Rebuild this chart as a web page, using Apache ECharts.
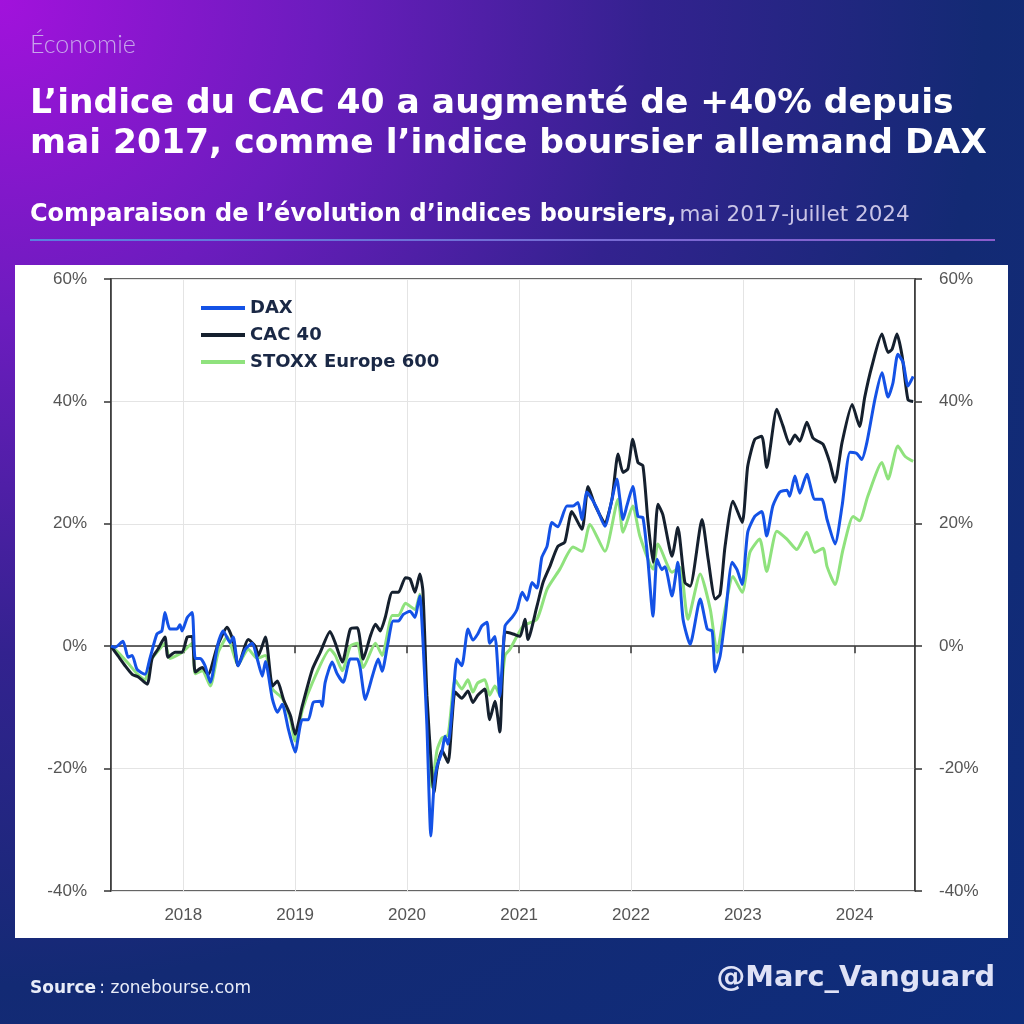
<!DOCTYPE html>
<html>
<head>
<meta charset="utf-8">
<script src="https://cdn.jsdelivr.net/npm/echarts@6/dist/echarts.min.js"></script>
<style>
  html, body { margin: 0; padding: 0; }
  #page {
    position: relative;
    width: 1024px;
    height: 1024px;
    overflow: hidden;
    background: radial-gradient(circle at 0% 0%, #a212dc 0%, #6c1cbe 22%, #33228f 45%, #132a74 68%, #0e2d7c 100%);
  }
  #panel { position: absolute; left: 15px; top: 265px; width: 993px; height: 673px; background: #ffffff; }
  #chart { position: absolute; left: 0; top: 0; width: 1024px; height: 1024px; }
</style>
</head>
<body>
<div id="page">
  <div id="panel"></div>
  <div id="chart"></div>
</div>
<script>
// séries (variation en % depuis mai 2017)
const seriesNames = ['DAX', 'CAC 40', 'STOXX Europe 600'];
const xStart = '2017-05-10';
const xEnd = '2024-07-16';
const yMin = -40;
const yMax = 60;
const yStep = 20;

const daxPoints = [
  ['2017-05-10', 0], ['2017-05-23', -0.2], ['2017-06-18', 0.8], ['2017-07-05', -1.8], ['2017-07-18', -1.5],
  ['2017-08-03', -3.8], ['2017-08-29', -4.6], ['2017-09-14', -2], ['2017-10-07', 2], ['2017-10-23', 2.5],
  ['2017-11-02', 5.5], ['2017-11-18', 2.8], ['2017-12-11', 2.8], ['2017-12-21', 3.5], ['2017-12-28', 2.5],
  ['2018-01-14', 4.7], ['2018-01-30', 5.5], ['2018-02-09', -2], ['2018-02-25', -2], ['2018-03-13', -3.2],
  ['2018-03-30', -5.9], ['2018-04-25', 0.6], ['2018-05-11', 2.5], ['2018-06-03', 0.6], ['2018-06-13', 1.5],
  ['2018-06-29', -3.2], ['2018-07-22', -0.5], ['2018-08-14', 0.5], ['2018-08-30', -2], ['2018-09-16', -4.9],
  ['2018-09-26', -2.5], ['2018-10-19', -8.7], ['2018-11-04', -10.8], ['2018-11-20', -9.5], ['2018-12-10', -13.6],
  ['2019-01-01', -17.3], ['2019-01-24', -12], ['2019-02-13', -12], ['2019-03-01', -9.2], ['2019-03-24', -9],
  ['2019-03-30', -9.8], ['2019-04-09', -5.9], ['2019-05-02', -2.6], ['2019-05-18', -4.5], ['2019-06-07', -5.9],
  ['2019-06-30', -2.1], ['2019-07-23', -2.1], ['2019-08-01', -3.5], ['2019-08-18', -8.7], ['2019-09-10', -4.9],
  ['2019-09-29', -2.1], ['2019-10-12', -4.1], ['2019-10-29', 0], ['2019-11-17', 4.1], ['2019-12-04', 4.1],
  ['2019-12-20', 5.2], ['2020-01-11', 5.7], ['2020-01-27', 4.7], ['2020-02-06', 6.9], ['2020-02-12', 8.2],
  ['2020-02-22', 1], ['2020-03-06', -13], ['2020-03-19', -31], ['2020-03-29', -22.9], ['2020-04-08', -19.6],
  ['2020-04-24', -17.3], ['2020-05-04', -14.7], ['2020-05-14', -16], ['2020-05-30', -8.7], ['2020-06-12', -2.1],
  ['2020-06-28', -3.2], ['2020-07-18', 2.8], ['2020-08-03', 1], ['2020-08-19', 2], ['2020-09-01', 3.3],
  ['2020-09-18', 3.9], ['2020-09-27', 0.5], ['2020-10-14', 1.6], ['2020-10-30', -8.2], ['2020-11-16', 3.3],
  ['2020-12-09', 4.7], ['2020-12-25', 6], ['2021-01-11', 8.8], ['2021-01-27', 7.5], ['2021-02-12', 10.4],
  ['2021-02-28', 9.5], ['2021-03-16', 14.5], ['2021-04-02', 16.3], ['2021-04-18', 20.2], ['2021-05-07', 19.5],
  ['2021-06-06', 22.9], ['2021-06-26', 22.9], ['2021-07-12', 23.5], ['2021-07-25', 20.7], ['2021-08-10', 25.2],
  ['2021-08-27', 24], ['2021-09-12', 22.5], ['2021-10-08', 19.6], ['2021-10-31', 24], ['2021-11-16', 27.3],
  ['2021-11-26', 24], ['2021-12-06', 20.7], ['2021-12-19', 23], ['2022-01-07', 26.1], ['2022-01-24', 21.2],
  ['2022-02-09', 21], ['2022-02-25', 14.2], ['2022-03-14', 4.9], ['2022-03-27', 14.2], ['2022-04-12', 12.5],
  ['2022-04-22', 13], ['2022-05-15', 8.2], ['2022-06-03', 13.7], ['2022-06-20', 4.4], ['2022-07-13', 0.3],
  ['2022-08-15', 7.7], ['2022-09-07', 2.8], ['2022-09-23', 2.5], ['2022-10-03', -4.2], ['2022-10-19', -1.6],
  ['2022-11-04', 4.4], ['2022-11-27', 13.7], ['2022-12-13', 12.5], ['2022-12-30', 10.1], ['2023-01-17', 18.6],
  ['2023-02-09', 21.2], ['2023-03-04', 22], ['2023-03-20', 18], ['2023-04-09', 22.9], ['2023-05-02', 25.2],
  ['2023-05-25', 25.5], ['2023-06-03', 24.5], ['2023-06-20', 27.8], ['2023-07-06', 25], ['2023-07-29', 28.1],
  ['2023-08-24', 24], ['2023-09-16', 24], ['2023-10-03', 20.7], ['2023-10-29', 16.7], ['2023-11-21', 22.9],
  ['2023-12-17', 31.7], ['2024-01-08', 31.5], ['2024-01-24', 30.5], ['2024-02-10', 33.3], ['2024-03-07', 40.3],
  ['2024-03-30', 44.7], ['2024-04-19', 40.7], ['2024-05-05', 43], ['2024-05-21', 47.7], ['2024-06-07', 46.4],
  ['2024-06-23', 42.5], ['2024-07-10', 44.1]
];

const cacPoints = [
  ['2017-05-10', 0], ['2017-06-02', -1.6], ['2017-06-25', -3.2], ['2017-07-18', -4.6], ['2017-08-06', -5],
  ['2017-09-05', -6.2], ['2017-09-21', -2], ['2017-10-10', -0.5], ['2017-11-02', 1.5], ['2017-11-12', -1.8],
  ['2017-12-05', -1], ['2017-12-28', -1], ['2018-01-14', 1.5], ['2018-01-30', 1.6], ['2018-02-09', -4.2],
  ['2018-03-04', -3.5], ['2018-03-23', -4.6], ['2018-04-22', 0], ['2018-05-24', 3.1], ['2018-06-13', 0.8],
  ['2018-06-29', -3.2], ['2018-08-01', 1.1], ['2018-08-24', 0], ['2018-09-03', -1.5], ['2018-09-26', 1.5],
  ['2018-10-19', -6.5], ['2018-11-04', -5.7], ['2018-11-24', -8.7], ['2018-12-17', -11.4], ['2019-01-01', -14.4],
  ['2019-01-24', -9.8], ['2019-02-26', -3.8], ['2019-03-24', -1], ['2019-04-25', 2.4], ['2019-05-12', 0.5],
  ['2019-06-04', -2.6], ['2019-06-30', 2.8], ['2019-07-23', 3], ['2019-08-11', -2.1], ['2019-09-03', 1.6],
  ['2019-09-20', 3.6], ['2019-10-06', 2.5], ['2019-10-22', 4.7], ['2019-11-14', 8.8], ['2019-12-04', 8.8],
  ['2019-12-27', 11.2], ['2020-01-11', 11], ['2020-01-27', 8.8], ['2020-02-12', 11.8], ['2020-02-22', 9],
  ['2020-03-06', -8], ['2020-03-22', -20.6], ['2020-03-29', -23.9], ['2020-04-08', -20], ['2020-04-24', -17],
  ['2020-05-14', -19], ['2020-05-27', -12], ['2020-06-06', -7.5], ['2020-06-28', -8.5], ['2020-07-18', -7.3],
  ['2020-08-03', -9.2], ['2020-08-19', -8], ['2020-09-11', -7], ['2020-09-27', -12], ['2020-10-14', -9],
  ['2020-10-30', -14], ['2020-11-16', 2.3], ['2020-12-12', 2], ['2021-01-04', 1.6], ['2021-01-20', 4.4],
  ['2021-01-30', 1.1], ['2021-02-28', 6.5], ['2021-03-20', 10.4], ['2021-04-11', 13], ['2021-05-07', 16.3],
  ['2021-05-30', 17], ['2021-06-22', 22], ['2021-07-25', 19.1], ['2021-08-14', 26.1], ['2021-09-06', 23],
  ['2021-10-08', 20.2], ['2021-10-31', 24], ['2021-11-20', 31.4], ['2021-12-06', 28.4], ['2021-12-22', 29],
  ['2022-01-07', 33.8], ['2022-01-24', 30], ['2022-02-09', 29.5], ['2022-02-25', 20.7], ['2022-03-14', 13.7],
  ['2022-03-30', 23.2], ['2022-04-15', 21.5], ['2022-05-15', 14.7], ['2022-06-03', 19.4], ['2022-06-26', 10.4],
  ['2022-07-13', 9.8], ['2022-08-21', 20.7], ['2022-09-10', 14.2], ['2022-10-03', 7.7], ['2022-10-19', 8.5],
  ['2022-11-04', 16.3], ['2022-11-30', 23.7], ['2022-12-30', 20.2], ['2023-01-17', 29.4], ['2023-02-09', 33.8],
  ['2023-03-04', 34.3], ['2023-03-20', 29.2], ['2023-04-22', 38.7], ['2023-05-12', 36], ['2023-06-03', 33],
  ['2023-06-20', 34.5], ['2023-07-06', 33.5], ['2023-07-29', 36.6], ['2023-08-18', 34], ['2023-09-03', 33.5],
  ['2023-09-20', 33], ['2023-10-12', 30], ['2023-10-29', 26.8], ['2023-11-21', 33.3], ['2023-12-24', 39.5],
  ['2024-01-17', 35.9], ['2024-02-03', 40.7], ['2024-02-26', 45.7], ['2024-03-30', 51], ['2024-04-19', 48],
  ['2024-05-02', 48.5], ['2024-05-18', 51], ['2024-06-04', 47.4], ['2024-06-23', 40.3], ['2024-07-10', 40]
];

const stoxxPoints = [
  ['2017-05-10', 0], ['2017-06-02', -1], ['2017-07-05', -2.8], ['2017-08-03', -4.5], ['2017-08-29', -5.5],
  ['2017-09-14', -2.5], ['2017-10-10', -0.8], ['2017-11-02', 0.5], ['2017-11-18', -2], ['2017-12-11', -1.5],
  ['2017-12-28', -1], ['2018-01-30', 0.5], ['2018-02-09', -4.5], ['2018-03-04', -4], ['2018-03-30', -6.5],
  ['2018-04-25', -1], ['2018-05-24', 1.5], ['2018-06-29', -3], ['2018-08-01', -0.5], ['2018-08-30', -2],
  ['2018-09-26', -1.5], ['2018-10-19', -7], ['2018-11-20', -8.5], ['2018-12-17', -12], ['2019-01-01', -15.5],
  ['2019-01-24', -10.5], ['2019-02-26', -6], ['2019-04-25', -0.5], ['2019-05-12', -1.5], ['2019-06-04', -4],
  ['2019-06-30', 0], ['2019-07-23', 0.5], ['2019-08-11', -3.5], ['2019-09-20', 0.5], ['2019-10-12', -1.5],
  ['2019-11-14', 5], ['2019-12-04', 5], ['2019-12-27', 7], ['2020-01-27', 6], ['2020-02-12', 8.5],
  ['2020-02-22', 4], ['2020-03-06', -10], ['2020-03-22', -23], ['2020-04-08', -17], ['2020-04-24', -15],
  ['2020-05-14', -14.5], ['2020-06-06', -5.5], ['2020-06-28', -7], ['2020-07-18', -5.5], ['2020-08-03', -7.5],
  ['2020-08-19', -6], ['2020-09-11', -5.5], ['2020-09-27', -8], ['2020-10-14', -6.5], ['2020-10-30', -8],
  ['2020-11-16', -1.5], ['2020-12-02', -0.5], ['2021-01-14', 3.3], ['2021-02-28', 4.4], ['2021-04-02', 9.3],
  ['2021-05-14', 12.6], ['2021-06-26', 16.2], ['2021-07-25', 15.5], ['2021-08-20', 19.9], ['2021-10-08', 15.5],
  ['2021-11-20', 24], ['2021-12-06', 18.6], ['2022-01-07', 22.9], ['2022-01-30', 18], ['2022-03-14', 12.6],
  ['2022-03-30', 16.7], ['2022-05-15', 12.1], ['2022-06-10', 12.9], ['2022-07-06', 4.4], ['2022-08-15', 11.8],
  ['2022-09-17', 6], ['2022-10-09', -1], ['2022-10-29', 4.4], ['2022-11-30', 11.4], ['2022-12-30', 8.8],
  ['2023-01-24', 15.3], ['2023-02-25', 17.5], ['2023-03-20', 12.2], ['2023-04-22', 18.8], ['2023-05-25', 17.5],
  ['2023-06-26', 15.8], ['2023-07-29', 18.6], ['2023-08-24', 15.3], ['2023-09-20', 16], ['2023-10-03', 13],
  ['2023-10-29', 10.1], ['2023-11-24', 15.8], ['2023-12-27', 21.2], ['2024-01-17', 20.5], ['2024-02-13', 24.5],
  ['2024-03-30', 30], ['2024-04-19', 27.3], ['2024-05-21', 32.7], ['2024-06-14', 31], ['2024-07-10', 30.2]
];

const seriesColors = ['#1452e6', '#15202e', '#8fe27d'];
const seriesPoints = [daxPoints, cacPoints, stoxxPoints];

const chart = echarts.init(document.getElementById('chart'));

const axisLineStyle = { color: '#333333', width: 1.5 };
const tickFont = { color: '#555555', fontSize: 17, fontFamily: 'Liberation Sans' };

function yAxisFor(position) {
  return {
    type: 'value',
    position: position,
    min: yMin,
    max: yMax,
    interval: yStep,
    axisLine: { show: true, lineStyle: axisLineStyle },
    axisTick: { show: true, length: 7, lineStyle: axisLineStyle },
    axisLabel: Object.assign({ formatter: '{value}%', margin: 24 }, tickFont),
    splitLine: { show: position === 'left', lineStyle: { color: '#e4e4e4', width: 1 } }
  };
}

chart.setOption({
  backgroundColor: 'transparent',
  animation: false,
  grid: {
    left: 111,
    right: 109,
    top: 279,
    bottom: 133,
    show: true,
    borderColor: '#333333',
    borderWidth: 1.5,
    backgroundColor: 'transparent'
  },
  legend: {
    data: seriesNames,
    orient: 'vertical',
    left: 196,
    top: 293,
    itemWidth: 44,
    itemHeight: 4,
    itemGap: 7,
    icon: 'rect',
    textStyle: { color: '#1a2845', fontSize: 18, fontWeight: 'bold', fontFamily: 'DejaVu Sans', lineHeight: 20 }
  },
  xAxis: {
    type: 'time',
    min: xStart,
    max: xEnd,
    minInterval: 365 * 24 * 3600 * 1000,
    splitNumber: 7,
    axisLine: { show: true, lineStyle: axisLineStyle },
    axisTick: { show: true, length: 7, lineStyle: axisLineStyle },
    axisLabel: Object.assign({
      margin: 16,
      showMinLabel: false,
      showMaxLabel: false,
      formatter: (value) => String(new Date(value).getFullYear())
    }, tickFont),
    splitLine: { show: true, lineStyle: { color: '#e4e4e4', width: 1 } }
  },
  yAxis: [yAxisFor('left'), yAxisFor('right')],
  series: seriesNames.map((name, i) => ({
    name: name,
    type: 'line',
    data: seriesPoints[i],
    showSymbol: false,
    smooth: 0.2,
    z: 4 - i,
    lineStyle: { width: 3, color: seriesColors[i] },
    itemStyle: { color: seriesColors[i] }
  })),
  graphic: [
    {
      type: 'text', left: 30, top: 32,
      style: { text: 'Économie', fill: '#c7a6ea', font: '300 25px Lato' }
    },
    {
      type: 'text', left: 30, top: 84,
      style: {
        text: 'L’indice du CAC 40 a augmenté de +40% depuis\nmai 2017, comme l’indice boursier allemand DAX',
        fill: '#ffffff', font: 'bold 34.5px "DejaVu Sans"', lineHeight: 40
      }
    },
    {
      type: 'text', left: 30, top: 203,
      style: {
        text: '{b|Comparaison de l’évolution d’indices boursiers,} {n|mai 2017-juillet 2024}',
        rich: {
          b: { fill: '#ffffff', font: 'bold 24px "DejaVu Sans"' },
          n: { fill: '#c9c4e6', font: '21.5px "DejaVu Sans"' }
        }
      }
    },
    {
      type: 'rect', left: 30, top: 239,
      shape: { width: 965, height: 2 },
      style: {
        fill: new echarts.graphic.LinearGradient(0, 0, 1, 0, [
          { offset: 0, color: '#5a7ee0' },
          { offset: 1, color: '#8a5ccc' }
        ])
      }
    },
    {
      type: 'text', left: 30, top: 980,
      style: {
        text: '{b|Source} {n|: zonebourse.com}',
        rich: {
          b: { fill: '#e8ecf8', font: 'bold 17px "DejaVu Sans"' },
          n: { fill: '#e8ecf8', font: '17px "DejaVu Sans"' }
        }
      }
    },
    {
      type: 'text', right: 29, top: 964,
      style: { text: '@Marc_Vanguard', fill: '#dfe2f6', font: 'bold 28.8px "DejaVu Sans"' }
    }
  ]
});
</script>
</body>
</html>
